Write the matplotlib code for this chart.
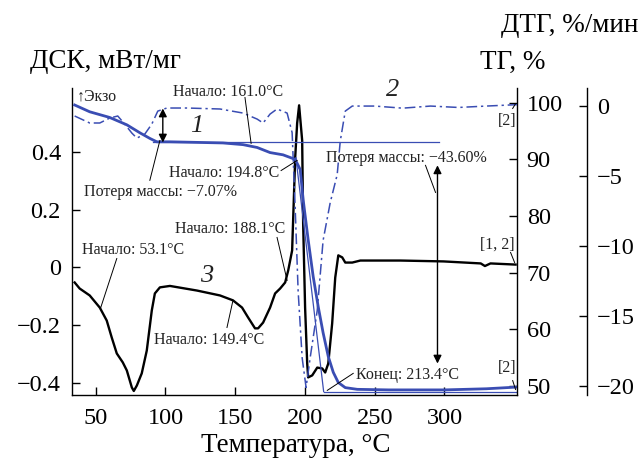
import matplotlib
matplotlib.use("Agg")
import matplotlib.pyplot as plt

plt.rcParams['font.family'] = ['Liberation Serif', 'DejaVu Serif']
plt.rcParams['axes.unicode_minus'] = True

# ---------------- data ----------------
# TG curve (1), %
tg_temp = [34.9, 45.7, 60, 72.3, 81.6, 88.8, 93.8, 103.2, 141.2, 155.6, 165.7,
           175, 184.3, 193, 196.6, 198.7, 202.3, 205.9, 209.5, 213, 216.7, 220.3,
           223.9, 228.9, 237.5, 260, 300, 330, 352]
tg_val = [99.6, 98.4, 97.4, 96.1, 94.7, 93.7, 93.1, 93.1, 92.9, 92.6, 92.1,
          91.2, 90.8, 90.0, 88.2, 82.9, 75.8, 69.3, 64.0, 59.4, 55.2, 52.4,
          50.6, 49.7, 49.4, 49.3, 49.3, 49.5, 49.8]

# DTG curve (2), %/min
dtg_temp = [34.9, 45.7, 52.9, 60, 65.8, 70.8, 75.9, 79.5, 85.2, 90.2, 94.5,
            101, 115.4, 139.1, 155.6, 165.7, 170, 175, 180, 187.2, 190.8, 193,
            195.1, 198, 200.8, 203.7, 208.8, 213, 218.1, 223.1, 225.3, 228.9,
            233.9, 250, 270, 290, 310, 330, 352]
dtg_val = [-0.71, -1.21, -1.21, -0.86, -0.71, -1.29, -1.93, -2.29, -2.0, -1.29,
           -0.36, -0.14, -0.14, -0.21, -0.5, -0.93, -1.21, -0.57, -0.21, -0.5,
           -1.9, -7.3, -13.2, -18.0, -20.1, -18.0, -14.6, -9.6, -6.9, -4.9,
           -2.5, -0.36, 0.0, 0.0, -0.15, 0.0, -0.1, 0.0, 0.1]

# DSC curve (3), mW/mg
dsc_temp = [34.9, 38.5, 45.7, 52.9, 57.9, 61.5, 65.1, 69.4, 72.3, 75.9, 77.3,
            79.5, 83.0, 86.6, 90.2, 92.4, 96.0, 103.2, 122.6, 139.1, 148.4,
            154.9, 159.2, 164.2, 166.4, 170, 175, 178.6, 182.2, 185.8, 188,
            190.8, 193, 194.4, 195.8, 198, 198.7, 200.1, 201.6, 202.3, 205.2,
            208.8, 212.4, 214.5, 216.7, 219.5, 221.7, 223.9, 226.7, 228.9,
            233.9, 239.7, 268.4, 299.3, 326, 329, 333, 351]
dsc_val = [-0.052, -0.073, -0.097, -0.139, -0.184, -0.243, -0.298, -0.329,
           -0.357, -0.416, -0.428, -0.409, -0.367, -0.288, -0.149, -0.090,
           -0.069, -0.064, -0.080, -0.097, -0.114, -0.139, -0.173, -0.211,
           -0.211, -0.191, -0.139, -0.090, -0.073, -0.052, -0.010, 0.059,
           0.381, 0.5, 0.562, 0.44, 0.152, -0.139, -0.333, -0.381, -0.374,
           -0.347, -0.350, -0.364, -0.333, -0.194, -0.035, 0.042, 0.035, 0.017,
           0.017, 0.024, 0.024, 0.021, 0.014, 0.005, 0.014, 0.01]

# construction lines on TG (onset / end)
base_x = [91, 296]
base_tg = [93.0, 93.0]
tan_x = [193.5, 213.4]
tan_tg = [90.3, 49.0]
end_x = [213.4, 352]
end_tg = [49.0, 49.0]

xticks = [50, 100, 150, 200, 250, 300]
dsc_ticks = [-0.4, -0.2, 0, 0.2, 0.4]
dsc_labels = ['\u22120.4', '\u22120.2', '0', '0.2', '0.4']
tg_ticks = [50, 60, 70, 80, 90, 100]
dtg_ticks = [0, -5, -10, -15, -20]
dtg_labels = ['0', '\u22125', '\u221210', '\u221215', '\u221220']

BLUE = '#3a4db3'
TICKFS = 17.5
ANNFS = 11.5
TITLEFS = 19.5

fig = plt.figure(figsize=(6.44, 4.63), dpi=100)
ax = fig.add_axes([72 / 644, 68 / 463, 445 / 644, 307 / 463])
ax_tg = ax.twinx()
ax_dtg = ax.twinx()

ax.set_xlim(33, 352)
ax.set_ylim(-0.442, 0.622)
ax_tg.set_ylim(48.4, 102.6)
ax_dtg.set_ylim(-20.64, 1.29)

for s in ['top', 'right']:
    ax.spines[s].set_visible(False)
for a in (ax_tg, ax_dtg):
    for s in ['top', 'left', 'bottom']:
        a.spines[s].set_visible(False)
ax_dtg.spines['right'].set_position(('axes', 515 / 445))

for a in (ax, ax_tg, ax_dtg):
    for sp in a.spines.values():
        sp.set_linewidth(1.0)

ax.set_xticks(xticks)
ax.set_yticks(dsc_ticks)
ax.set_yticklabels(dsc_labels)
ax_tg.set_yticks(tg_ticks)
ax_dtg.set_yticks(dtg_ticks)
ax_dtg.set_yticklabels(dtg_labels)

ax.tick_params(axis='both', direction='in', length=6, width=1.0,
               labelsize=TICKFS, pad=8)
ax.tick_params(axis='x', pad=9)
ax_tg.tick_params(axis='y', direction='in', length=6, width=1.0,
                  labelsize=TICKFS, pad=7)
ax_dtg.tick_params(axis='y', direction='in', length=6, width=1.0,
                   labelsize=TICKFS, pad=7)

# curves
ax.plot(dsc_temp, dsc_val, color='black', lw=1.7, zorder=3)
ax_tg.plot(base_x, base_tg, color=BLUE, lw=0.9)
ax_tg.plot(tan_x, tan_tg, color=BLUE, lw=0.9)
ax_tg.plot(end_x, end_tg, color=BLUE, lw=0.9)
ax_tg.plot(tg_temp, tg_val, color=BLUE, lw=2.0)
ax_dtg.plot(dtg_temp, dtg_val, color=BLUE, lw=1.1,
            linestyle=(0, (7, 2.5, 1.5, 2.5)))

# annotations (in DSC-axis data coordinates)
def note(txt, x, y, ha='center', fs=ANNFS, **kw):
    ax_dtg.text(x, y, txt, transform=ax.transData, ha=ha, va='center',
                fontsize=fs, color='#222222', clip_on=False, zorder=6, **kw)

def leader(x0, y0, x1, y1):
    ax_dtg.plot([x0, x1], [y0, y1], transform=ax.transData, color='black',
                lw=0.7, clip_on=False, zorder=6)

note('\u2191Экзо', 36.5, 0.593, ha='left')
note('Начало: 161.0°C', 144.8, 0.607)
leader(157.0, 0.589, 161.4, 0.430)
note('Начало: 194.8°C', 142.0, 0.326)
leader(182.9, 0.336, 194.4, 0.371)
note('Потеря массы: \u22127.07%', 96.7, 0.262)
leader(88.8, 0.302, 96.0, 0.440)
note('Потеря массы: \u221243.60%', 272.7, 0.381)
leader(286.4, 0.354, 293.6, 0.260)
note('Конец: 213.4°C', 273.4, -0.371)
leader(216.0, -0.426, 234.6, -0.367)
note('[2]', 345.3, 0.506)
leader(348.9, 0.551, 351.0, 0.568)
note('[1, 2]', 338.0, 0.08)
leader(347.4, 0.052, 350.3, 0.017)
note('[2]', 345.3, -0.347)
leader(348.9, -0.392, 351.0, -0.423)
note('Начало: 53.1°C', 76.6, 0.059)
leader(65.1, 0.031, 53.6, -0.139)
note('Начало: 149.4°C', 131.2, -0.253)
leader(144.1, -0.208, 148.4, -0.114)
note('Начало: 188.1°C', 146.3, 0.135)
leader(180.0, 0.104, 187.2, -0.045)

note('1', 122.6, 0.492, fs=19, style='italic')
note('2', 262.6, 0.614, fs=19, style='italic')
note('3', 129.7, -0.028, fs=19, style='italic')

# double arrows
arrow_kw = dict(arrowstyle='<|-|>', color='black', lw=1.0,
                mutation_scale=12, shrinkA=0, shrinkB=0)
ax_dtg.annotate('', xy=(98.1, 0.551), xytext=(98.1, 0.433),
                xycoords=ax.transData, textcoords=ax.transData,
                arrowprops=arrow_kw, zorder=6)
ax_dtg.annotate('', xy=(295.0, 0.354), xytext=(295.0, -0.333),
                xycoords=ax.transData, textcoords=ax.transData,
                arrowprops=arrow_kw, zorder=6)

# axis titles
fig.text(30 / 644, 1 - 62 / 463, 'ДСК, мВт/мг', ha='left', va='center',
         fontsize=TITLEFS)
fig.text(513 / 644, 1 - 62 / 463, 'ТГ, %', ha='center', va='center',
         fontsize=TITLEFS)
fig.text(570 / 644, 1 - 25 / 463, 'ДТГ, %/мин', ha='center', va='center',
         fontsize=TITLEFS)
fig.text(296 / 644, 1 - 445 / 463, 'Температура, °C', ha='center',
         va='center', fontsize=TITLEFS)

fig.savefig('out.png', dpi=100)
